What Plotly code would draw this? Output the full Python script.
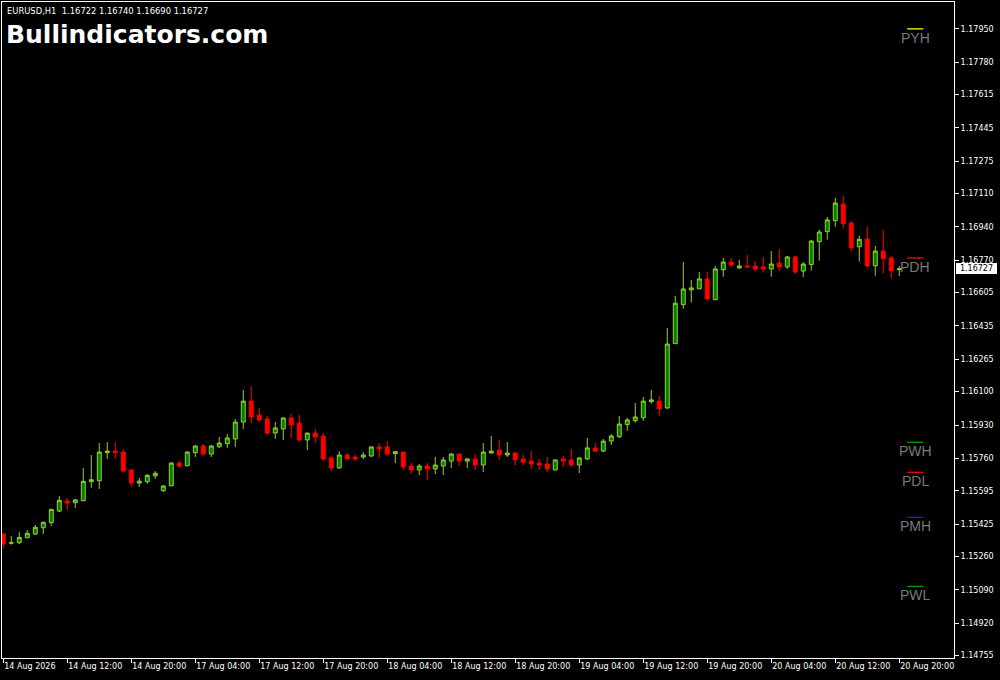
import plotly.graph_objects as go

# ---------------- data ----------------
symbol = "EURUSD,H1"
site_title = "Bullindicators.com"

opens = [1.15374, 1.15327, 1.15330, 1.15355, 1.15374, 1.15406, 1.15432, 1.15491, 1.15542, 1.15534,
         1.15544, 1.15641, 1.15646, 1.15789, 1.15797, 1.15792, 1.15701, 1.15634, 1.15641, 1.15671,
         1.15595, 1.15620, 1.15736, 1.15722, 1.15789, 1.15823, 1.15782, 1.15819, 1.15835, 1.15859,
         1.15945, 1.16052, 1.15981, 1.15961, 1.15889, 1.15910, 1.15966, 1.15940, 1.15854, 1.15889,
         1.15874, 1.15762, 1.15711, 1.15777, 1.15767, 1.15767, 1.15772, 1.15818, 1.15818, 1.15784,
         1.15792, 1.15721, 1.15701, 1.15721, 1.15706, 1.15721, 1.15746, 1.15782, 1.15746, 1.15757,
         1.15726, 1.15787, 1.15802, 1.15777, 1.15787, 1.15757, 1.15746, 1.15736, 1.15731, 1.15701,
         1.15757, 1.15752, 1.15726, 1.15757, 1.15813, 1.15797, 1.15848, 1.15870, 1.15932, 1.15952,
         1.15967, 1.16049, 1.16052, 1.16017, 1.16345, 1.16544, 1.16619, 1.16625, 1.16675, 1.16569,
         1.16722, 1.16761, 1.16731, 1.16741, 1.16741, 1.16736, 1.16726, 1.16756, 1.16736, 1.16787,
         1.16715, 1.16748, 1.16865, 1.16916, 1.16972, 1.17057, 1.16960, 1.16839, 1.16879, 1.16742,
         1.16817, 1.16782, 1.16722]
highs = [1.15380, 1.15364, 1.15384, 1.15395, 1.15420, 1.15436, 1.15502, 1.15568, 1.15558, 1.15553,
         1.15711, 1.15777, 1.15838, 1.15843, 1.15843, 1.15806, 1.15703, 1.15660, 1.15680, 1.15695,
         1.15624, 1.15741, 1.15748, 1.15797, 1.15828, 1.15833, 1.15828, 1.15869, 1.15884, 1.15961,
         1.16109, 1.16129, 1.16017, 1.15976, 1.15945, 1.15968, 1.15988, 1.15981, 1.15891, 1.15910,
         1.15889, 1.15772, 1.15797, 1.15787, 1.15777, 1.15792, 1.15823, 1.15838, 1.15848, 1.15796,
         1.15794, 1.15736, 1.15731, 1.15736, 1.15767, 1.15767, 1.15787, 1.15784, 1.15759, 1.15782,
         1.15838, 1.15874, 1.15854, 1.15843, 1.15792, 1.15777, 1.15797, 1.15757, 1.15767, 1.15754,
         1.15772, 1.15808, 1.15767, 1.15864, 1.15838, 1.15859, 1.15884, 1.15976, 1.15966, 1.16042,
         1.16073, 1.16109, 1.16078, 1.16425, 1.16588, 1.16761, 1.16670, 1.16710, 1.16710, 1.16741,
         1.16782, 1.16782, 1.16772, 1.16797, 1.16766, 1.16787, 1.16817, 1.16828, 1.16792, 1.16792,
         1.16761, 1.16874, 1.16925, 1.16991, 1.17088, 1.17098, 1.16970, 1.16894, 1.16940, 1.16843,
         1.16925, 1.16792, 1.16740]
lows = [1.15301, 1.15320, 1.15323, 1.15354, 1.15369, 1.15374, 1.15415, 1.15486, 1.15497, 1.15507,
        1.15542, 1.15610, 1.15604, 1.15757, 1.15757, 1.15687, 1.15614, 1.15614, 1.15631, 1.15655,
        1.15590, 1.15618, 1.15711, 1.15720, 1.15767, 1.15772, 1.15767, 1.15813, 1.15813, 1.15818,
        1.15910, 1.15940, 1.15945, 1.15879, 1.15859, 1.15854, 1.15864, 1.15843, 1.15802, 1.15838,
        1.15746, 1.15695, 1.15706, 1.15755, 1.15746, 1.15757, 1.15767, 1.15762, 1.15772, 1.15736,
        1.15701, 1.15680, 1.15675, 1.15650, 1.15680, 1.15675, 1.15711, 1.15721, 1.15711, 1.15701,
        1.15690, 1.15785, 1.15752, 1.15767, 1.15726, 1.15726, 1.15706, 1.15701, 1.15690, 1.15699,
        1.15716, 1.15716, 1.15685, 1.15752, 1.15792, 1.15792, 1.15828, 1.15864, 1.15901, 1.15942,
        1.15952, 1.16039, 1.15977, 1.16012, 1.16343, 1.16523, 1.16554, 1.16623, 1.16568, 1.16567,
        1.16686, 1.16736, 1.16726, 1.16734, 1.16712, 1.16707, 1.16686, 1.16715, 1.16726, 1.16700,
        1.16685, 1.16717, 1.16768, 1.16875, 1.16941, 1.16931, 1.16814, 1.16763, 1.16736, 1.16691,
        1.16705, 1.16676, 1.16690]
closes = [1.15323, 1.15330, 1.15357, 1.15378, 1.15408, 1.15434, 1.15500, 1.15546, 1.15532, 1.15548,
          1.15643, 1.15651, 1.15792, 1.15797, 1.15789, 1.15695, 1.15634, 1.15644, 1.15673, 1.15684,
          1.15619, 1.15736, 1.15721, 1.15792, 1.15823, 1.15782, 1.15823, 1.15838, 1.15864, 1.15945,
          1.16052, 1.15971, 1.15956, 1.15889, 1.15915, 1.15966, 1.15930, 1.15854, 1.15889, 1.15869,
          1.15757, 1.15711, 1.15777, 1.15757, 1.15757, 1.15777, 1.15818, 1.15808, 1.15782, 1.15794,
          1.15716, 1.15701, 1.15721, 1.15706, 1.15726, 1.15752, 1.15782, 1.15746, 1.15757, 1.15726,
          1.15792, 1.15797, 1.15777, 1.15787, 1.15752, 1.15741, 1.15731, 1.15726, 1.15706, 1.15752,
          1.15746, 1.15726, 1.15762, 1.15813, 1.15797, 1.15848, 1.15874, 1.15935, 1.15956, 1.15971,
          1.16052, 1.16058, 1.16012, 1.16343, 1.16551, 1.16624, 1.16629, 1.16675, 1.16573, 1.16726,
          1.16761, 1.16746, 1.16741, 1.16736, 1.16726, 1.16726, 1.16751, 1.16736, 1.16787, 1.16710,
          1.16751, 1.16868, 1.16914, 1.16976, 1.17062, 1.16957, 1.16834, 1.16877, 1.16741, 1.16817,
          1.16778, 1.16717, 1.16727]

bar_index = list(range(len(opens)))

x_tick_positions = [0, 8, 16, 24, 32, 40, 48, 56, 64, 72, 80, 88, 96, 104, 112]
x_tick_labels = ["14 Aug 2026", "14 Aug 12:00", "14 Aug 20:00", "17 Aug 04:00", "17 Aug 12:00",
                 "17 Aug 20:00", "18 Aug 04:00", "18 Aug 12:00", "18 Aug 20:00", "19 Aug 04:00",
                 "19 Aug 12:00", "19 Aug 20:00", "20 Aug 04:00", "20 Aug 12:00", "20 Aug 20:00"]

price_ticks = [1.17950, 1.17780, 1.17615, 1.17445, 1.17275, 1.17110, 1.16940, 1.16770, 1.16605,
               1.16435, 1.16265, 1.16100, 1.15930, 1.15760, 1.15595, 1.15425, 1.15260, 1.15090,
               1.14920, 1.14755]

level_names = ["PYH", "PDH", "PWH", "PDL", "PMH", "PWL"]
level_prices = [1.17950, 1.16782, 1.15842, 1.15689, 1.15459, 1.15107]
level_colors = ["#FFFF00", "#FF0000", "#00A000", "#FF0000", "#2020FF", "#00A000"]

# ---------------- figure ----------------
BG = "#000000"
AX = "#FFFFFF"
TICK_FONT = dict(family="DejaVu Sans", size=8, color=AX)

fig = go.Figure()
fig.add_trace(go.Candlestick(
    x=bar_index, open=opens, high=highs, low=lows, close=closes,
    increasing=dict(line=dict(color="#9ACD32", width=1), fillcolor="#008000"),
    decreasing=dict(line=dict(color="#FF0000", width=1), fillcolor="#FF0000"),
    whiskerwidth=0, hoverinfo="skip", showlegend=False,
))

n = len(opens)
for name, price, color in zip(level_names, level_prices, level_colors):
    fig.add_shape(type="line", xref="x", yref="y", x0=n, x1=n + 2, y0=price, y1=price,
                  line=dict(color=color, width=1.3))
    fig.add_annotation(x=n + 1, y=price, xref="x", yref="y", text=name, showarrow=False,
                       xanchor="center", yanchor="middle", yshift=-9,
                       font=dict(family="Liberation Sans", size=14, color="#787878"))

# current price tag on the price scale
fig.add_annotation(x=1, xref="paper", y=closes[-1], yref="y", text=f"{closes[-1]:.5f}",
                   showarrow=False, xanchor="left", yanchor="middle", xshift=2,
                   bgcolor="#FFFFFF", borderpad=1, borderwidth=0, width=39, height=9,
                   align="center", font=dict(family="DejaVu Sans", size=8, color="#000000"))

# header texts
header = f"{symbol}\u00a0\u00a0{opens[-1]:.5f} {highs[-1]:.5f} {lows[-1]:.5f} {closes[-1]:.5f}"
fig.add_annotation(x=0, xref="paper", y=1, yref="paper", text=header, showarrow=False,
                   xanchor="left", yanchor="middle", xshift=3, yshift=-9,
                   font=dict(family="DejaVu Sans", size=8.4, color=AX))
fig.add_annotation(x=0, xref="paper", y=1, yref="paper", text=f"<b>{site_title}</b>",
                   showarrow=False, xanchor="left", yanchor="middle", xshift=2, yshift=-32,
                   font=dict(family="DejaVu Sans", size=25, color=AX))

fig.update_layout(
    width=1000, height=680,
    margin=dict(l=2, r=46, t=2, b=22),
    paper_bgcolor=BG, plot_bgcolor=BG,
    showlegend=False,
    boxgap=0.3,
    xaxis=dict(
        range=[-0.16, 118.84], rangeslider=dict(visible=False),
        tickmode="array", tickvals=x_tick_positions, ticktext=x_tick_labels,
        ticks="outside", ticklen=4, tickcolor=AX, tickwidth=1,
        ticklabelposition="outside right", tickfont=TICK_FONT,
        showgrid=False, zeroline=False,
        showline=True, linecolor=AX, linewidth=1, mirror=True,
    ),
    yaxis=dict(
        range=[1.14742, 1.18087], side="right",
        tickmode="array", tickvals=price_ticks, ticktext=[f"{v:.5f}" for v in price_ticks],
        ticks="outside", ticklen=4, tickcolor=AX, tickwidth=1, tickfont=TICK_FONT,
        showgrid=False, zeroline=False,
        showline=True, linecolor=AX, linewidth=1, mirror=True,
    ),
)

fig.write_html("out.html", config={"displayModeBar": False},
               post_script="document.body.style.margin='0';document.body.style.overflow='hidden';")
